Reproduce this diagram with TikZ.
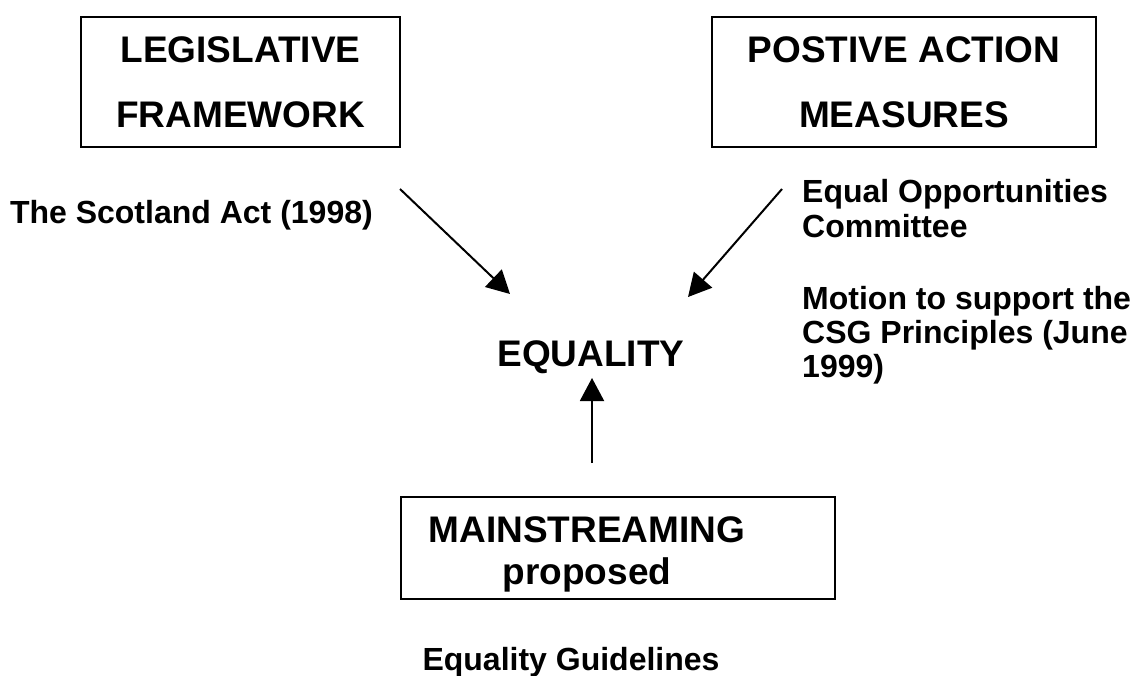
\documentclass[tikz,border=0pt]{standalone}
\usepackage{fontspec}
\setmainfont{Liberation Sans}
\usetikzlibrary{arrows.meta}
\tikzset{
  titlebox/.style={draw,line width=2pt,inner sep=0pt,minimum height=130pt},
  titletext/.style={font=\bfseries\fontsize{37}{65}\selectfont,align=center},
  notetext/.style={font=\bfseries\fontsize{32}{35}\selectfont,align=left,inner sep=0pt},
  bigarrow/.style={line width=2pt,-{Triangle[length=23pt,width=24pt]}}
}

\begin{document}
\begin{tikzpicture}[x=1pt,y=-1pt]
\useasboundingbox (0,0) rectangle (1135,675);
\node[titlebox,titletext,minimum width=319pt] (legis) at (240.5,82) {LEGISLATIVE\\FRAMEWORK};
\node[titlebox,titletext,minimum width=384pt] (posit) at (904,82) {POSTIVE ACTION\\MEASURES};
\node[titlebox,minimum width=434pt,minimum height=102pt] (mainbox) at (618,548) {};
\node[font=\bfseries\fontsize{37}{42}\selectfont,align=center,inner sep=0pt] (mainstr) at (587,554) {MAINSTREAMING\\proposed};
\node[font=\bfseries\fontsize{37}{42}\selectfont,inner sep=0pt] (equal) at (591,357) {EQUALITY};
\node[notetext,anchor=base east] (scot) at (373,223) {The Scotland Act (1998)};
\node[notetext,anchor=north west] (eoc) at (802,179) {Equal Opportunities\\Committee};
\node[notetext,font=\bfseries\fontsize{32}{34}\selectfont,anchor=north west] (motion) at (802,286) {Motion to support the\\CSG Principles (June\\1999)};
\node[notetext,anchor=base] (guide) at (571,670) {Equality Guidelines};
\coordinate (lstart) at (400,189);
\coordinate (ltip) at (510,294);
\coordinate (rstart) at (782,189);
\coordinate (rtip) at (688,297);
\coordinate (ustart) at (592,463);
\coordinate (utip) at (592,378);
\draw[bigarrow] (lstart) -- (ltip);
\draw[bigarrow] (rstart) -- (rtip);
\draw[bigarrow] (ustart) -- (utip);
\end{tikzpicture}
\end{document}
